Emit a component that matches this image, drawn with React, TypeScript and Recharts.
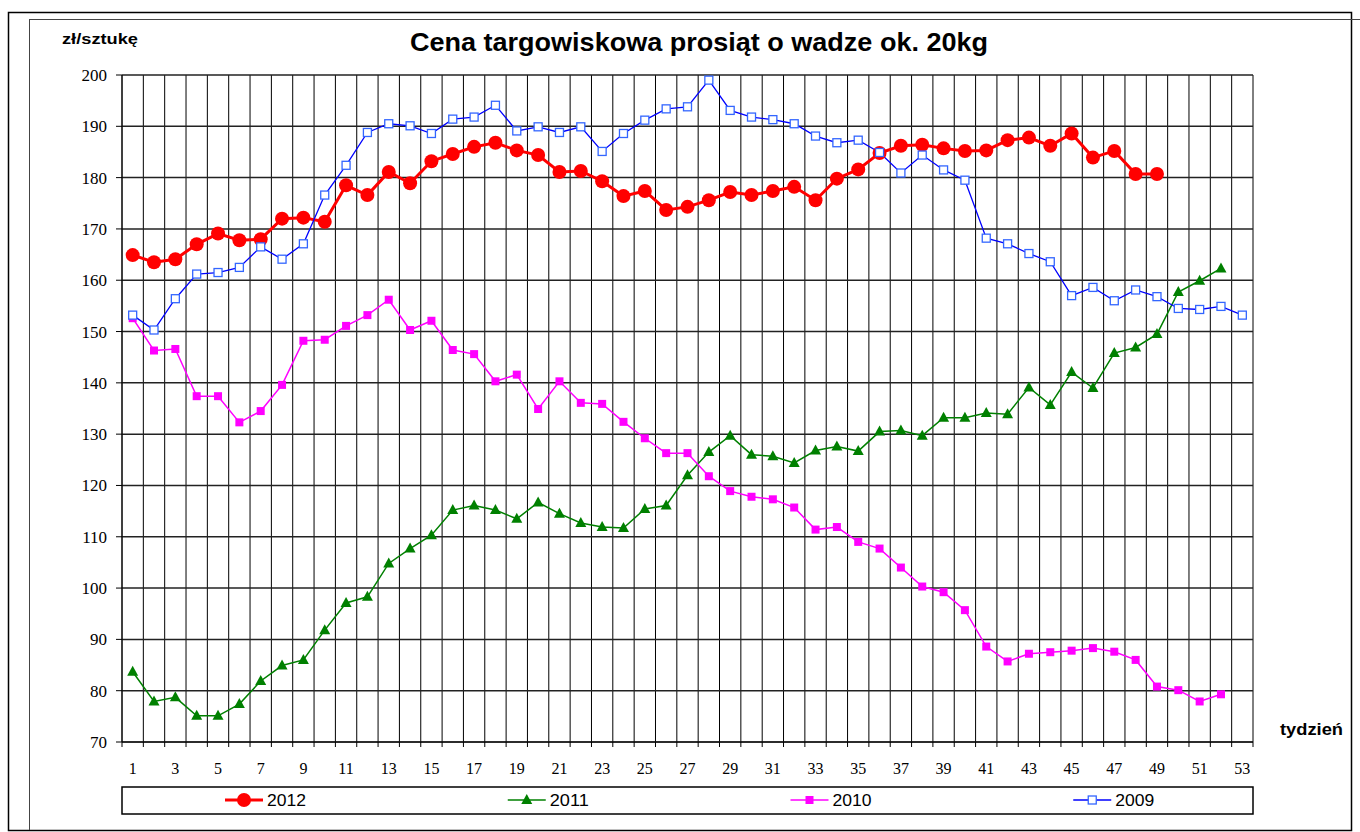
import { CartesianGrid, Line, LineChart, XAxis, YAxis } from 'recharts';

const weeks = [
  1, 2, 3, 4, 5, 6, 7, 8, 9, 10, 11, 12, 13, 14, 15, 16, 17, 18, 19, 20, 21, 22, 23, 24, 25, 26,
  27, 28, 29, 30, 31, 32, 33, 34, 35, 36, 37, 38, 39, 40, 41, 42, 43, 44, 45, 46, 47, 48, 49, 50,
  51, 52, 53,
];
const weekLabels = [1, 3, 5, 7, 9, 11, 13, 15, 17, 19, 21, 23, 25, 27, 29, 31, 33, 35, 37, 39, 41, 43, 45, 47, 49, 51, 53];
const priceTicks = [70, 80, 90, 100, 110, 120, 130, 140, 150, 160, 170, 180, 190, 200];

const price2012 = [
  164.9, 163.5, 164.1, 167.0, 169.1, 167.8, 168.0, 172.0, 172.2, 171.4,
  178.5, 176.6, 181.1, 178.9, 183.2, 184.6, 186.0, 186.8, 185.3, 184.4,
  181.1, 181.3, 179.3, 176.4, 177.4, 173.7, 174.3, 175.6, 177.2, 176.6,
  177.4, 178.2, 175.6, 179.8, 181.6, 184.8, 186.2, 186.4, 185.7, 185.2,
  185.3, 187.3, 187.8, 186.2, 188.6, 183.9, 185.2, 180.7, 180.7,
];
const price2011 = [
  83.7, 77.9, 78.7, 75.1, 75.1, 77.4, 81.9, 84.9, 86.0, 91.8,
  97.1, 98.3, 104.8, 107.7, 110.3, 115.2, 116.1, 115.2, 113.5, 116.7,
  114.5, 112.7, 111.9, 111.7, 115.4, 116.1, 122.0, 126.5, 129.7, 126.0,
  125.7, 124.4, 126.8, 127.6, 126.7, 130.5, 130.7, 129.7, 133.2, 133.2,
  134.1, 133.9, 139.1, 135.7, 142.1, 139.0, 145.8, 146.9, 149.5, 157.7,
  159.9, 162.3,
];
const price2010 = [
  152.6, 146.3, 146.6, 137.4, 137.4, 132.3, 134.5, 139.6, 148.2, 148.4,
  151.1, 153.2, 156.2, 150.3, 152.1, 146.4, 145.6, 140.3, 141.6, 134.9,
  140.3, 136.1, 135.9, 132.4, 129.2, 126.3, 126.3, 121.8, 118.9, 117.8,
  117.3, 115.7, 111.4, 111.9, 109.0, 107.7, 104.0, 100.3, 99.2, 95.7,
  88.6, 85.7, 87.2, 87.5, 87.8, 88.3, 87.6, 86.0, 80.8, 80.1,
  77.9, 79.3,
];
const price2009 = [
  153.2, 150.3, 156.4, 161.2, 161.5, 162.5, 166.5, 164.1, 167.1, 176.6,
  182.4, 188.8, 190.5, 190.1, 188.6, 191.4, 191.8, 194.1, 189.1, 189.9,
  188.8, 189.9, 185.1, 188.6, 191.2, 193.4, 193.8, 199.0, 193.1, 191.8,
  191.3, 190.5, 188.1, 186.8, 187.3, 184.9, 180.9, 184.4, 181.5, 179.5,
  168.2, 167.1, 165.2, 163.6, 157.0, 158.6, 156.0, 158.1, 156.8, 154.5,
  154.3, 154.9, 153.2,
];

const rows = weeks.map((w, i) => ({
  week: w,
  y2012: price2012[i] ?? null,
  y2011: price2011[i] ?? null,
  y2010: price2010[i] ?? null,
  y2009: price2009[i] ?? null,
}));

// grid lines and tick marks sit between the weeks
const boundaries = [...weeks.map((w) => w - 0.5), weeks[weeks.length - 1] + 0.5];
const xDomain = [boundaries[0], boundaries[boundaries.length - 1]];

const serif = '"Liberation Serif", "Times New Roman", serif';
const sans = '"Liberation Sans", Arial, sans-serif';

type Shape = 'circle' | 'triangle' | 'square' | 'hollow';

const marker = (shape: Shape, cx: number, cy: number, key?: string | number) => {
  switch (shape) {
    case 'circle':
      return <circle key={key} cx={cx} cy={cy} r={7} fill="#ff0000" />;
    case 'triangle':
      return (
        <polygon
          key={key}
          points={`${cx},${cy - 6} ${cx - 5.5},${cy + 4} ${cx + 5.5},${cy + 4}`}
          fill="#008000"
        />
      );
    case 'square':
      return <rect key={key} x={cx - 4} y={cy - 4} width={8} height={8} fill="#ff00ff" />;
    default:
      return (
        <rect
          key={key}
          x={cx - 4}
          y={cy - 4}
          width={8}
          height={8}
          fill="#fff"
          stroke="#3366ff"
          strokeWidth={1.3}
        />
      );
  }
};

const dotFor = (shape: Shape) => (p: any) => {
  if (p.cx == null || p.cy == null || p.value == null) return <g key={p.index} />;
  return marker(shape, p.cx, p.cy, p.index);
};

const series = [
  { key: 'y2012', name: '2012', color: '#ff0000', width: 3, shape: 'circle' as Shape },
  { key: 'y2011', name: '2011', color: '#008000', width: 1.5, shape: 'triangle' as Shape },
  { key: 'y2010', name: '2010', color: '#ff00ff', width: 1.5, shape: 'square' as Shape },
  { key: 'y2009', name: '2009', color: '#0000ff', width: 1.3, shape: 'hollow' as Shape },
];

// vertical grid at week boundaries, mapped through the x axis scale
const weekGrid = ({ xAxis, offset }: any) => {
  if (xAxis && typeof xAxis.scale === 'function') {
    return boundaries.map((b) => xAxis.scale(b));
  }
  const span = xDomain[1] - xDomain[0];
  return boundaries.map((b) => offset.left + ((b - xDomain[0]) / span) * offset.width);
};

// boundary axis only shows its tick marks, no text
const NoLabel = () => <g />;

export default function App() {
  const colW = (1253 - 122) / series.length;
  return (
    <div style={{ position: 'absolute', left: 0, top: 0, width: 1360, height: 832, background: '#fff' }}>
      <LineChart
        width={1360}
        height={832}
        data={rows}
        margin={{ top: 75, right: 107, bottom: 52, left: 72 }}
      >
        <CartesianGrid
          horizontal={false}
          stroke="#000"
          strokeWidth={1}
          verticalCoordinatesGenerator={weekGrid}
        />
        <CartesianGrid vertical={false} stroke="#222" strokeWidth={1.5} />
        <XAxis
          dataKey="week"
          type="number"
          domain={xDomain}
          ticks={boundaries}
          interval={0}
          tick={<NoLabel />}
          tickSize={5}
          height={8}
          axisLine={{ stroke: '#000' }}
          tickLine={{ stroke: '#000' }}
        />
        <XAxis
          xAxisId="lab"
          dataKey="week"
          type="number"
          domain={xDomain}
          ticks={weekLabels}
          interval={0}
          axisLine={false}
          tickLine={false}
          tickSize={0}
          tickMargin={13}
          height={30}
          tick={{ fill: '#000', fontSize: 16, fontFamily: serif }}
        />
        <YAxis
          type="number"
          domain={[70, 200]}
          ticks={priceTicks}
          interval={0}
          width={50}
          tickSize={6}
          tickMargin={9}
          axisLine={{ stroke: '#000' }}
          tickLine={{ stroke: '#000' }}
          tick={{ fill: '#000', fontSize: 17, fontFamily: serif }}
        />
        {series.map((s) => (
          <Line
            key={s.key}
            dataKey={s.key}
            name={s.name}
            stroke={s.color}
            strokeWidth={s.width}
            dot={dotFor(s.shape)}
            activeDot={false}
            isAnimationActive={false}
          />
        ))}
      </LineChart>

      <svg
        width={1360}
        height={832}
        style={{ position: 'absolute', left: 0, top: 0, pointerEvents: 'none' }}
      >
        <rect x={8.5} y={12.5} width={1343} height={818} fill="none" stroke="#000" strokeWidth={1.5} />
        <line x1={29.5} y1={19} x2={29.5} y2={830} stroke="#444" strokeWidth={1} />
        <line x1={29} y1={19.5} x2={1360} y2={19.5} stroke="#444" strokeWidth={1} />

        <text
          x={410}
          y={51}
          fontFamily={sans}
          fontWeight="bold"
          fontSize={26}
          textLength={578}
          lengthAdjust="spacingAndGlyphs"
        >
          Cena targowiskowa prosiąt o wadze ok. 20kg
        </text>
        <text
          x={62}
          y={44}
          fontFamily={sans}
          fontWeight="bold"
          fontSize={15}
          textLength={76}
          lengthAdjust="spacingAndGlyphs"
        >
          zł/sztukę
        </text>
        <text
          x={1280}
          y={735}
          fontFamily={sans}
          fontWeight="bold"
          fontSize={16}
          textLength={63}
          lengthAdjust="spacingAndGlyphs"
        >
          tydzień
        </text>

        <rect x={122} y={787} width={1131} height={27} fill="#fff" stroke="#000" strokeWidth={1.5} />
        {series.map((s, i) => {
          const x0 = 122 + i * colW + 103;
          return (
            <g key={s.key}>
              <line x1={x0} y1={800} x2={x0 + 38} y2={800} stroke={s.color} strokeWidth={s.width} />
              {marker(s.shape, x0 + 19, 800)}
              <text
                x={x0 + 42}
                y={806}
                fontFamily={sans}
                fontSize={17}
                textLength={39}
                lengthAdjust="spacingAndGlyphs"
              >
                {s.name}
              </text>
            </g>
          );
        })}
      </svg>
    </div>
  );
}
